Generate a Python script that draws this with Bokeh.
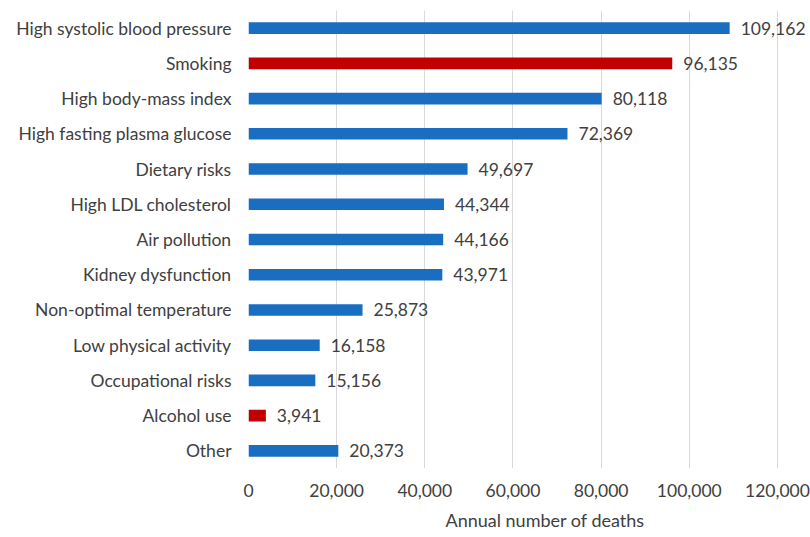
from bokeh.plotting import figure
from bokeh.models import FactorRange, ColumnDataSource, NumeralTickFormatter, FixedTicker, Title
from bokeh.core.properties import value
from bokeh.embed import file_html
from bokeh.resources import INLINE

# Risk factors and annual deaths attributed to each
risk_factors = [
    "High systolic blood pressure",
    "Smoking",
    "High body-mass index",
    "High fasting plasma glucose",
    "Dietary risks",
    "High LDL cholesterol",
    "Air pollution",
    "Kidney dysfunction",
    "Non-optimal temperature",
    "Low physical activity",
    "Occupational risks",
    "Alcohol use",
    "Other",
]
deaths = [109162, 96135, 80118, 72369, 49697, 44344, 44166, 43971,
          25873, 16158, 15156, 3941, 20373]
highlighted = ["Smoking", "Alcohol use"]
x_ticks = [0, 20000, 40000, 60000, 80000, 100000, 120000]

BLUE = "#1a6ec2"
RED = "#c00000"
TEXT = "#404040"
FONT = "Lato"
FS = "17.5px"

colors = [RED if r in highlighted else BLUE for r in risk_factors]
labels = [f"{d:,}" for d in deaths]

source = ColumnDataSource(dict(factor=risk_factors, deaths=deaths,
                               color=colors, label=labels))

# frame runs past the last gridline so the value labels have room
p = figure(
    width=810, height=537,
    y_range=FactorRange(factors=list(reversed(risk_factors))),
    x_range=(0, 127500),
    output_backend="svg", toolbar_location=None,
    min_border_left=248, min_border_right=0,
    min_border_top=10, min_border_bottom=69,
)

p.hbar(y="factor", right="deaths", left=0, height=0.33,
       fill_color="color", line_color=None, source=source)

p.text(x="deaths", y="factor", text="label", source=source,
       x_offset=11, text_baseline="middle", text_align="left",
       text_font=value(FONT), text_font_size=FS, text_color=TEXT)

p.outline_line_color = None
p.ygrid.grid_line_color = None
p.xgrid.grid_line_color = "#d9d9d9"
p.xgrid.grid_line_width = 1

p.xaxis.ticker = FixedTicker(ticks=x_ticks)
p.xaxis.formatter = NumeralTickFormatter(format="0,0")
for ax in (p.xaxis[0], p.yaxis[0]):
    ax.axis_line_color = None
    ax.major_tick_line_color = None
    ax.minor_tick_line_color = None
    ax.major_tick_out = 0
    ax.major_tick_in = 0
    ax.minor_tick_out = 0
    ax.major_label_text_font = FONT
    ax.major_label_text_font_size = FS
    ax.major_label_text_color = TEXT

p.xaxis.major_label_standoff = 15
p.yaxis.major_label_standoff = 17

p.add_layout(Title(text="Annual number of deaths", align="left", offset=197,
                   text_font=FONT, text_font_size="18px", text_color=TEXT,
                   text_font_style="normal", standoff=14), "below")

open("out.html", "w").write(file_html(p, INLINE))
